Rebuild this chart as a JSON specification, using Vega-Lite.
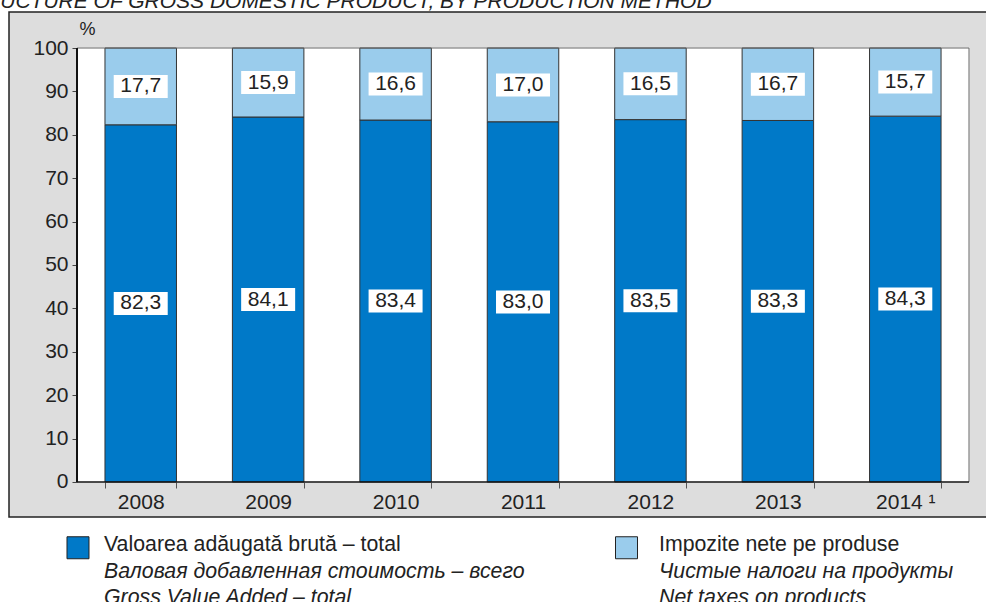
{
  "$schema": "https://vega.github.io/schema/vega-lite/v6.json",
  "background": "white",
  "padding": {"left": -42, "top": -9, "right": 0, "bottom": 0},
  "title": {"text": "STRUCTURE OF GROSS DOMESTIC PRODUCT, BY PRODUCTION METHOD", "anchor": "start", "dx": -50, "offset": -18, "baseline": "alphabetic", "font": "Liberation Sans", "fontSize": 21, "fontStyle": "italic", "fontWeight": "normal", "color": "#222222"},
  "spacing": 0,
  "config": {
    "font": "Liberation Sans",
    "locale": {"number": {"decimal": ",", "thousands": ".", "grouping": [3], "currency": ["", ""]}},
    "axis": {"labelFont": "Liberation Sans", "titleFont": "Liberation Sans", "grid": false}
  },
  "vconcat": [
    {
      "width": 990,
      "height": 505,
      "view": {"fill": "#DDDDDD", "stroke": "#222222", "strokeWidth": 1.5},
      "data": {"values": [
        {"year": "2008", "series": "gva", "value": 82.3},
        {"year": "2008", "series": "tax", "value": 17.7},
        {"year": "2009", "series": "gva", "value": 84.1},
        {"year": "2009", "series": "tax", "value": 15.9},
        {"year": "2010", "series": "gva", "value": 83.4},
        {"year": "2010", "series": "tax", "value": 16.6},
        {"year": "2011", "series": "gva", "value": 83.0},
        {"year": "2011", "series": "tax", "value": 17.0},
        {"year": "2012", "series": "gva", "value": 83.5},
        {"year": "2012", "series": "tax", "value": 16.5},
        {"year": "2013", "series": "gva", "value": 83.3},
        {"year": "2013", "series": "tax", "value": 16.7},
        {"year": "2014", "series": "gva", "value": 84.3},
        {"year": "2014", "series": "tax", "value": 15.7}
      ]},
      "layer": [
        {
          "transform": [{"filter": "datum.series == 'gva'"}],
          "mark": {"type": "bar", "fill": "white", "stroke": "white", "strokeWidth": 1, "width": {"band": 1.7822}},
          "encoding": {
            "x": {"field": "year", "type": "ordinal", "title": null,
              "scale": {"paddingInner": 0.4389, "paddingOuter": 0.60395, "align": 0.6235},
              "axis": {"orient": "bottom", "offset": -35, "domain": false, "tickBand": "extent", "tickSize": 6, "tickColor": "#555555", "tickWidth": 1, "labelFontSize": 21, "labelColor": "#222222", "labelPadding": 3, "labelAngle": 0, "labelExpr": "datum.value == '2014' ? '2014 ¹' : datum.value", "title": null}},
            "y": {"datum": 0, "type": "quantitative", "title": "%",
              "scale": {"domain": [-8.065, 108.295], "nice": false, "zero": false},
              "axis": {"orient": "left", "offset": -68, "domain": false, "values": [0, 10, 20, 30, 40, 50, 60, 70, 80, 90, 100], "tickSize": 5, "tickColor": "#444444", "tickWidth": 1, "labelFontSize": 21, "labelColor": "#222222", "labelPadding": 4, "title": "%", "titleAngle": 0, "titleX": 2, "titleY": 17, "titleAlign": "left", "titleBaseline": "middle", "titleFontSize": 18, "titleFontWeight": "normal", "titleColor": "#222222"}},
            "y2": {"datum": 100}
          }
        },
        {
          "transform": [{"stack": "value", "groupby": ["year"], "sort": [{"field": "series", "order": "ascending"}], "as": ["v0", "v1"]}],
          "mark": {"type": "bar", "stroke": "#333333", "strokeWidth": 1},
          "encoding": {
            "x": {"field": "year", "type": "ordinal", "title": null},
            "y": {"field": "v0", "type": "quantitative", "title": "%"},
            "y2": {"field": "v1"},
            "fill": {"field": "series", "type": "nominal", "scale": {"domain": ["gva", "tax"], "range": ["#0079C8", "#9ACCEC"]}, "legend": null}
          }
        },
        {
          "transform": [
            {"stack": "value", "groupby": ["year"], "sort": [{"field": "series", "order": "ascending"}], "as": ["v0", "v1"]},
            {"calculate": "(datum.v0 + datum.v1) / 2", "as": "mid"}
          ],
          "mark": {"type": "point", "shape": "M-1,-0.426H1V0.426H-1Z", "size": 2916, "filled": true, "fill": "white", "opacity": 1, "strokeWidth": 0},
          "encoding": {
            "x": {"field": "year", "type": "ordinal", "title": null},
            "y": {"field": "mid", "type": "quantitative", "title": "%"}
          }
        },
        {
          "transform": [
            {"stack": "value", "groupby": ["year"], "sort": [{"field": "series", "order": "ascending"}], "as": ["v0", "v1"]},
            {"calculate": "(datum.v0 + datum.v1) / 2", "as": "mid"}
          ],
          "mark": {"type": "text", "fontSize": 21, "color": "#222222", "baseline": "middle", "align": "center"},
          "encoding": {
            "x": {"field": "year", "type": "ordinal", "title": null},
            "y": {"field": "mid", "type": "quantitative", "title": "%"},
            "text": {"field": "value", "type": "quantitative", "format": ".1f"}
          }
        },
        {
          "data": {"values": [{}]},
          "mark": {"type": "rule", "color": "#666666", "strokeWidth": 1},
          "encoding": {
            "x": {"datum": "2008", "type": "ordinal", "bandPosition": -0.3911, "title": null},
            "x2": {"datum": "2014", "bandPosition": 1.3911},
            "y": {"datum": 100, "type": "quantitative", "title": "%"}
          }
        },
        {
          "data": {"values": [{}]},
          "mark": {"type": "rule", "color": "#666666", "strokeWidth": 1},
          "encoding": {
            "x": {"datum": "2014", "type": "ordinal", "bandPosition": 1.3911, "title": null},
            "y": {"datum": 0, "type": "quantitative", "title": "%"},
            "y2": {"datum": 100}
          }
        },
        {
          "data": {"values": [{}]},
          "mark": {"type": "rule", "color": "#111111", "strokeWidth": 1.6},
          "encoding": {
            "x": {"datum": "2008", "type": "ordinal", "bandPosition": -0.3911, "title": null},
            "x2": {"datum": "2014", "bandPosition": 1.3911},
            "y": {"datum": 0, "type": "quantitative", "title": "%"}
          }
        },
        {
          "data": {"values": [{}]},
          "mark": {"type": "rule", "color": "#111111", "strokeWidth": 2},
          "encoding": {
            "x": {"datum": "2008", "type": "ordinal", "bandPosition": -0.3911, "title": null},
            "y": {"datum": 0, "type": "quantitative", "title": "%"},
            "y2": {"datum": 100}
          }
        }
      ]
    },
    {
      "width": 685,
      "height": 107,
      "view": {"fill": null, "stroke": null},
      "data": {"values": [
        {"s": "gva", "line": 1, "t": "Valoarea adăugată brută – total"},
        {"s": "gva", "line": 2, "t": "Валовая добавленная стоимость – всего"},
        {"s": "gva", "line": 3, "t": "Gross Value Added – total"},
        {"s": "tax", "line": 1, "t": "Impozite nete pe produse"},
        {"s": "tax", "line": 2, "t": "Чистые налоги на продукты"},
        {"s": "tax", "line": 3, "t": "Net taxes on products"}
      ]},
      "layer": [
        {
          "transform": [{"filter": "datum.line == 1"}],
          "mark": {"type": "point", "shape": "square", "filled": true, "size": 484, "stroke": "#222222", "strokeWidth": 1, "opacity": 1, "yOffset": 3},
          "encoding": {
            "x": {"field": "s", "type": "nominal", "scale": {"type": "point", "padding": 0.1244, "align": 0.5055}, "axis": null},
            "y": {"field": "line", "type": "ordinal", "scale": {"type": "point", "padding": 1.277}, "axis": null},
            "fill": {"field": "s", "type": "nominal", "scale": {"domain": ["gva", "tax"], "range": ["#0079C8", "#9ACCEC"]}, "legend": null}
          }
        },
        {
          "transform": [{"filter": "datum.line == 1"}],
          "mark": {"type": "text", "align": "left", "baseline": "middle", "fontSize": 21.3, "color": "#222222"},
          "encoding": {
            "x": {"field": "s", "type": "nominal", "scale": {"type": "point", "padding": 0.1171, "align": 0.7308}, "axis": null},
            "y": {"field": "line", "type": "ordinal", "axis": null},
            "text": {"field": "t"}
          }
        },
        {
          "transform": [{"filter": "datum.line > 1"}],
          "mark": {"type": "text", "align": "left", "baseline": "middle", "fontSize": 21.3, "fontStyle": "italic", "color": "#222222"},
          "encoding": {
            "x": {"field": "s", "type": "nominal", "scale": {"type": "point", "padding": 0.1171, "align": 0.7308}, "axis": null},
            "y": {"field": "line", "type": "ordinal", "axis": null},
            "text": {"field": "t"}
          }
        }
      ],
      "resolve": {"scale": {"x": "independent"}}
    }
  ]
}
